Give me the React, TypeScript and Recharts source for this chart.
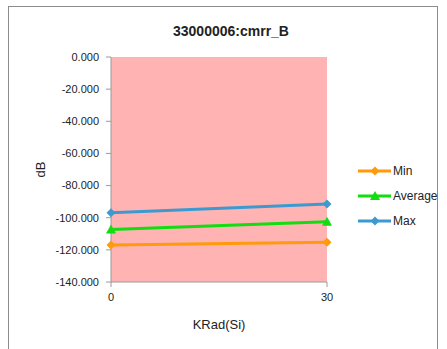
import { CartesianGrid, Label, Line, LineChart, XAxis, YAxis } from 'recharts';

const kradSteps = [0, 30];
const minValues = [-117.0, -115.2];
const averageValues = [-107.3, -102.5];
const maxValues = [-96.9, -91.5];
const yTicks = [0, -20, -40, -60, -80, -100, -120, -140];

const rows = kradSteps.map((k, i) => ({
  krad: k,
  Min: minValues[i],
  Average: averageValues[i],
  Max: maxValues[i],
}));

const FONT = '"Liberation Sans", Arial, sans-serif';

const series = [
  { key: 'Min', color: '#FF9A0A', marker: 'diamond' },
  { key: 'Average', color: '#11DD11', marker: 'triangle' },
  { key: 'Max', color: '#3C9AD0', marker: 'diamond' },
];

const Marker = ({ cx, cy, color, kind }: any) => {
  if (cx == null || cy == null) return null;
  if (kind === 'triangle') {
    return <path d={`M${cx},${cy - 5} L${cx + 5},${cy + 4} L${cx - 5},${cy + 4} Z`} fill={color} />;
  }
  return <path d={`M${cx},${cy - 4.5} L${cx + 4.5},${cy} L${cx},${cy + 4.5} L${cx - 4.5},${cy} Z`} fill={color} />;
};

// drawn next to the chart, Excel-style
const LegendBox = () => (
  <div
    style={{
      position: 'absolute',
      left: 349,
      top: 151,
      fontFamily: FONT,
      fontSize: 12,
      color: '#222',
    }}
  >
    {series.map((s) => (
      <div key={s.key} style={{ display: 'flex', alignItems: 'center', height: 25 }}>
        <svg width={34} height={12}>
          <line x1={0} y1={6} x2={33} y2={6} stroke={s.color} strokeWidth={3} />
          <Marker cx={17} cy={6} color={s.color} kind={s.marker} />
        </svg>
        <span style={{ marginLeft: 1 }}>{s.key}</span>
      </div>
    ))}
  </div>
);

export default function App() {
  return (
    <div
      style={{
        position: 'absolute',
        left: 8,
        top: 6,
        width: 430,
        height: 350,
        border: '1px solid #8c8c8c',
        background: '#fff',
        boxSizing: 'border-box',
      }}
    >
      <div
        style={{
          position: 'absolute',
          top: 16,
          left: 0,
          width: 444,
          textAlign: 'center',
          fontFamily: FONT,
          fontWeight: 'bold',
          fontSize: 14,
          color: '#222',
        }}
      >
        33000006:cmrr_B
      </div>
      <LineChart
        width={428}
        height={345}
        data={rows}
        margin={{ top: 50, right: 110, bottom: 40, left: 32 }}
      >
        <CartesianGrid horizontal={false} vertical={false} fill="#FFB3B3" />
        <XAxis
          dataKey="krad"
          type="number"
          domain={[0, 30]}
          ticks={kradSteps}
          height={30}
          tickSize={5}
          tickMargin={6}
          stroke="#9a9a9a"
          tick={{ fill: '#222', fontSize: 11, fontFamily: FONT }}
        >
          <Label value="KRad(Si)" position="bottom" offset={8} style={{ fill: '#222', fontSize: 13, fontFamily: FONT }} />
        </XAxis>
        <YAxis
          domain={[-140, 0]}
          ticks={yTicks}
          width={70}
          tickSize={5}
          tickMargin={7}
          stroke="#9a9a9a"
          tickFormatter={(v: number) => v.toFixed(3)}
          tick={{ fill: '#222', fontSize: 11, fontFamily: FONT }}
        >
          <Label value="dB" angle={-90} position="insideLeft" offset={-1} style={{ fill: '#222', fontSize: 13, fontFamily: FONT, textAnchor: 'middle' }} />
        </YAxis>
        {series.map((s) => (
          <Line
            key={s.key}
            dataKey={s.key}
            stroke={s.color}
            strokeWidth={3}
            isAnimationActive={false}
            dot={(p: any) => <Marker key={`${s.key}-${p.index}`} cx={p.cx} cy={p.cy} color={s.color} kind={s.marker} />}
            activeDot={false}
          />
        ))}
      </LineChart>
      <LegendBox />
    </div>
  );
}
